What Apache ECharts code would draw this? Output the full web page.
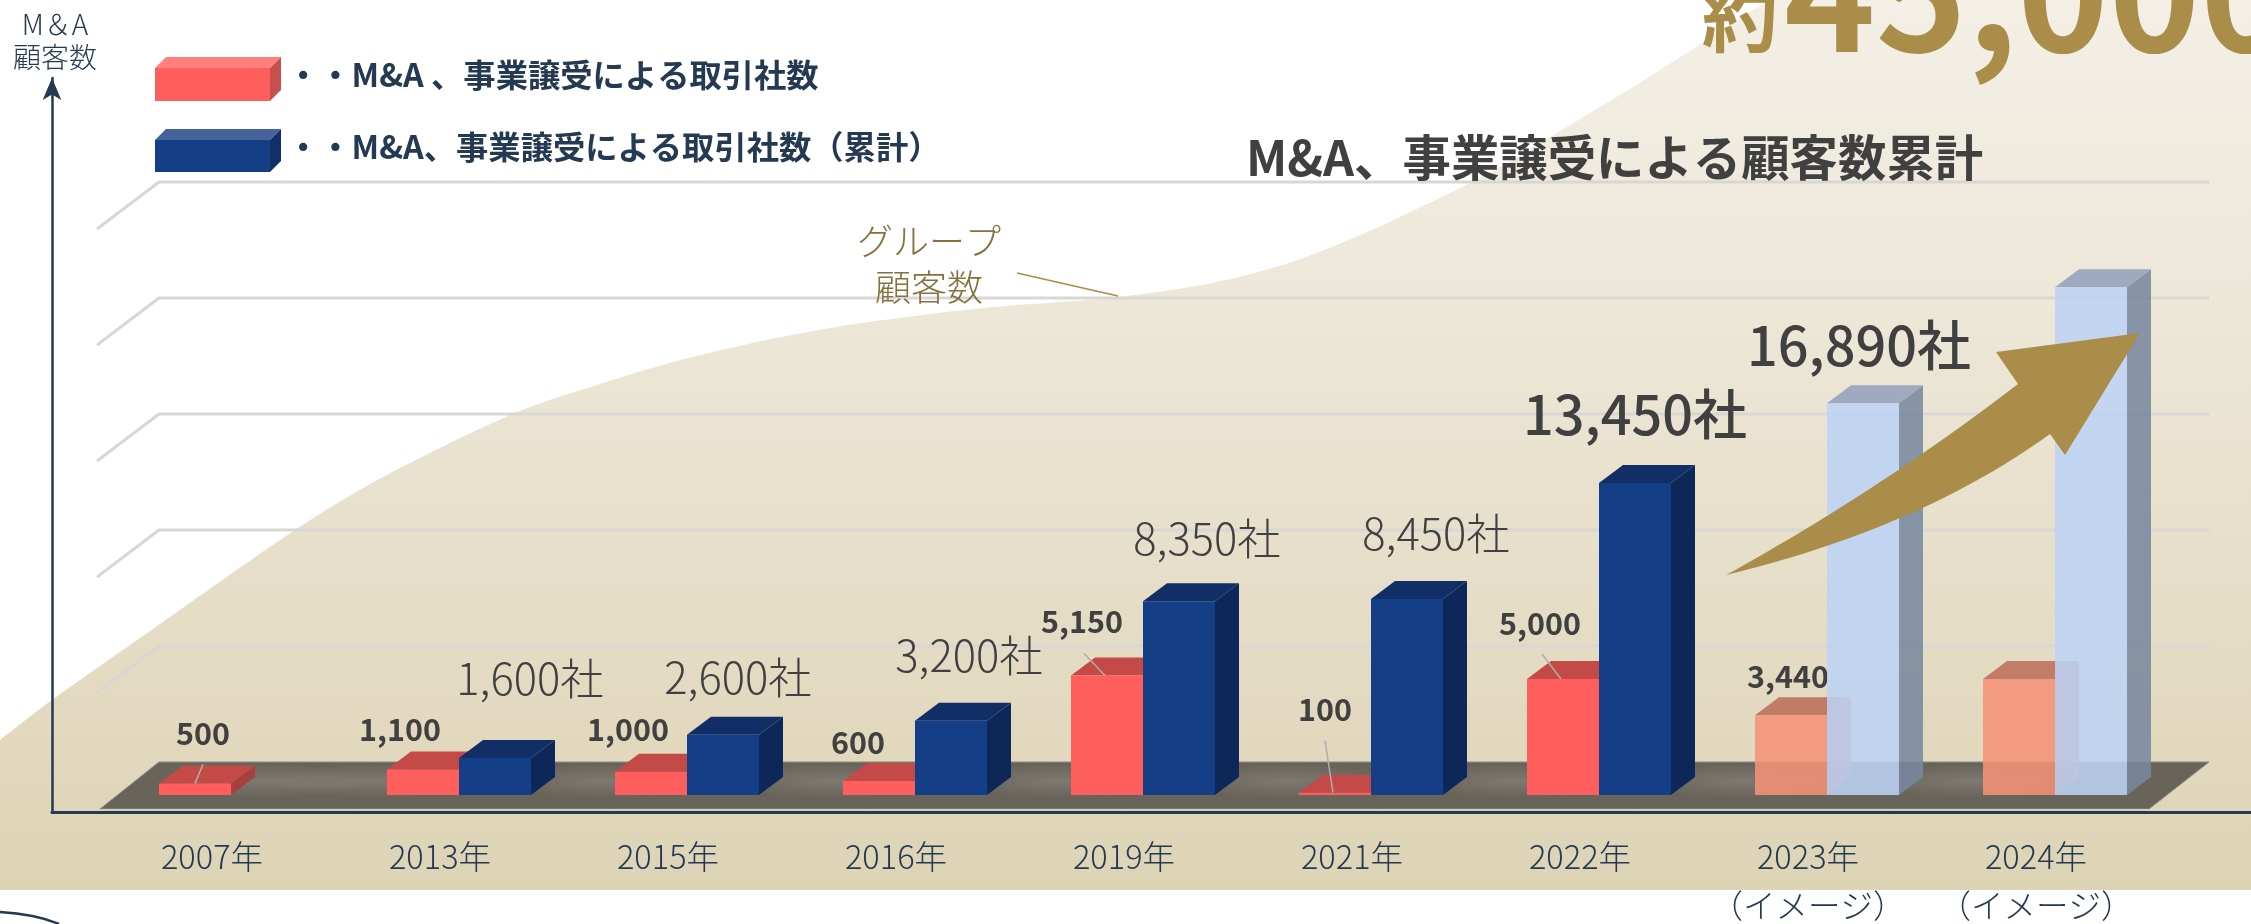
<!DOCTYPE html>
<html><head><meta charset="utf-8">
<style>html,body{margin:0;padding:0;background:#fff}#c{width:2251px;height:924px}</style>
<script src="https://cdn.jsdelivr.net/npm/echarts@6/dist/echarts.min.js"></script>
</head><body><div id="c"></div>
<script>
const FONT = '"Noto Sans CJK JP","Noto Sans",sans-serif';

// ---- data ----
const categories = ['2007年','2013年','2015年','2016年','2019年','2021年','2022年','2023年\n（イメージ）','2024年\n（イメージ）'];
const dealCounts = [500,1100,1000,600,5150,100,5000,3440,5000];
const cumulativeCounts = [null,1600,2600,3200,8350,8450,13450,16890,21890];
const gridValues = [5000,10000,15000,20000,25000];
const firstProjected = 7;
// group-customer curve: category position, customers (same scale as the bars)
const curveX = [-1.013,-0.785,-0.342,0.281,0.667,1.246,1.618,1.956,2.289,2.627,2.961,3.298,3.632,3.899,4.303,4.640,4.974,5.311,5.443,5.645,5.816,5.982,6.149,6.316,6.452,6.654,6.754,6.881,8.860];
const curveY = [2371,4095,7155,11422,13707,16466,17716,18707,19483,20129,20603,20991,21250,21466,22069,22931,24224,25776,26422,27500,28534,29526,30517,31552,32414,33707,34267,35129,35129];

// ---- series names and texts ----
const dealName = '・・M&A 、事業譲受による取引社数';
const cumName = '・・M&A、事業譲受による取引社数（累計）';
const chartTitle = 'M&A、事業譲受による顧客数累計';

// ---- styling offsets ----
const depthX = 24, depthY = 18;
const dealLabelOffsets = [[8,-50],[-23,-40],[-23,-42],[-21,-39],[-25,-54],[-10,-83],[-23,-56],[-3,-39],null];
const cumLabelOffsets = [null,[35,-79],[15,-57],[18,-65],[28,-63],[29,-65],[0,-68],[-4,-58],null];
const leaderOffsets = {0:[8,-19,0,0],4:[-23,-22,-2,0],5:[-10,-52,-2,0],6:[-21,-25,-2,0]};
const glowShift = [36,-85,-85,-85,-85,-85,-85,-85,-85];

const C = {
  red:{front:'#ff5f5c',top:'#c34a47',side:'#a8403d'},
  blue:{front:'#143e85',top:'#122e66',side:'#0e2759'},
  redP:{front:'rgba(245,146,120,0.87)',top:'rgba(187,110,90,0.87)',side:'rgba(187,110,90,0.87)'},
  blueP:{front:'rgba(188,210,245,0.87)',top:'rgba(147,161,190,0.87)',side:'rgba(119,135,159,0.87)'}
};
const GOLD = '#a98d49', INK = '#404040', NAVY = '#243a52';

function quad(p0,c,p1,n){
  const out=[];
  for(let k=1;k<=n;k++){const t=k/n,u=1-t;out.push([u*u*p0[0]+2*u*t*c[0]+t*t*p1[0],u*u*p0[1]+2*u*t*c[1]+t*t*p1[1]]);}
  return out;
}
const arrowOutline = [[1726,575]]
  .concat(quad([1726,575],[1880,490],[2018,384],24))
  .concat([[1996,352],[2140,333],[2065,455],[2050,434]])
  .concat(quad([2050,434],[1920,528],[1726,575],24));

function facesSeries(name, values, normal, projected, z){
  return {
    type:'custom', name:name+'-3d', z:z, silent:true, clip:false,
    xAxisIndex:0, yAxisIndex:0,
    data: values.map((v,i)=>[i,v]).filter(d=>d[1]!=null),
    encode:{x:0,y:1},
    renderItem(params, api){
      const i = api.value(0), v = api.value(1);
      const p0 = api.coord([i,0]), p1 = api.coord([i,v]);
      const isRed = values === dealCounts;
      const l = isRed ? p0[0]-72 : p0[0], r = l+72;
      const t = p1[1], b = p0[1];
      const c = i>=firstProjected ? projected : normal;
      return {type:'group',children:[
        {type:'polygon',shape:{points:[[r,t],[r+depthX,t-depthY],[r+depthX,b-depthY],[r,b]]},style:{fill:c.side}},
        {type:'polygon',shape:{points:[[l,t],[r,t],[r+depthX,t-depthY],[l+depthX,t-depthY]]},style:{fill:c.top}}
      ]};
    }
  };
}

const dealData = dealCounts.map((v,i)=>({
  value:v,
  itemStyle:{color:i>=firstProjected?C.redP.front:C.red.front},
  label: dealLabelOffsets[i] ? {
    show:true, position:'top', distance:0, verticalAlign:'middle', offset:dealLabelOffsets[i],
    formatter:v.toLocaleString('en-US'), fontFamily:FONT, fontWeight:700, fontSize:30.5, color:INK
  } : {show:false}
}));
const cumData = cumulativeCounts.map((v,i)=>v==null?{value:'-'}:({
  value:v,
  itemStyle:{color:i>=firstProjected?C.blueP.front:C.blue.front},
  label: cumLabelOffsets[i] ? {
    show:true, position:'top', distance:0, verticalAlign:'middle', offset:cumLabelOffsets[i],
    formatter:v.toLocaleString('en-US')+'社', fontFamily:FONT,
    fontWeight:(i>=6?500:300), fontSize:(i>=6?54:43.5), color:INK
  } : {show:false}
}));

const option = {
  animation:false,
  backgroundColor:'#fff',
  title:{text:chartTitle,left:1246,top:133,padding:0,z:12,
    textStyle:{fontFamily:FONT,fontWeight:700,fontSize:48.4,color:INK}},
  legend:{
    data:[{name:dealName,itemStyle:{color:'rgba(0,0,0,0)'}},{name:cumName,itemStyle:{color:'rgba(0,0,0,0)'}}],
    orient:'vertical',left:155,top:58,padding:0,
    itemWidth:115,itemHeight:33,itemGap:39,selectedMode:false,icon:'rect',
    textStyle:{fontFamily:FONT,fontWeight:700,fontSize:32.3,color:NAVY,padding:[0,0,0,12]},
    z:12
  },
  grid:[
    {left:117,width:2052,top:75.8,height:742.4,outerBoundsMode:'none'},
    {left:0,right:0,top:0,height:890,outerBoundsMode:'none'},
    {left:52,right:0,top:78,height:734,outerBoundsMode:'none'}
  ],
  xAxis:[
    {type:'category',gridIndex:0,data:categories,boundaryGap:true,z:10,
      axisLine:{show:false},axisTick:{show:false},splitLine:{show:false},
      axisLabel:{interval:0,margin:14,padding:[0,38,0,0],fontFamily:FONT,fontWeight:300,fontSize:32.5,lineHeight:49,color:NAVY,verticalAlign:'top',hideOverlap:false}},
    {type:'value',gridIndex:1,min:-1.013,max:8.86,show:false},
    {type:'value',gridIndex:2,min:0,max:1,z:10,
      axisLine:{show:true,onZero:false,lineStyle:{color:NAVY,width:3}},
      axisTick:{show:false},axisLabel:{show:false},splitLine:{show:false}}
  ],
  yAxis:[
    {type:'value',gridIndex:0,min:-1000,max:31000,show:false},
    {type:'value',gridIndex:1,min:-4095,max:34267,show:false},
    {type:'value',gridIndex:2,min:0,max:1,z:10,
      name:'M＆A\n顧客数',nameLocation:'end',nameGap:4,
      nameTextStyle:{fontFamily:FONT,fontWeight:300,fontSize:28,lineHeight:33,color:NAVY,align:'center',verticalAlign:'bottom',padding:[0,0,0,6]},
      axisLine:{show:true,onZero:false,symbol:['none','arrow'],symbolSize:[14,22],lineStyle:{color:NAVY,width:2.5}},
      axisTick:{show:false},axisLabel:{show:false},splitLine:{show:false}}
  ],
  series:[
    {type:'line',name:'グループ顧客数',xAxisIndex:1,yAxisIndex:1,z:1,silent:true,
      data:curveX.map((x,i)=>[x,curveY[i]]),smooth:0.3,showSymbol:false,symbol:'none',
      lineStyle:{width:0},
      areaStyle:{origin:'start',opacity:1,color:{type:'linear',x:0,y:0,x2:0,y2:1,colorStops:[
        {offset:0,color:'#f4f0e7'},{offset:0.4,color:'#ece6d6'},{offset:1,color:'#ddd3b5'}]}}},
    {type:'custom',name:'grid-walls',xAxisIndex:0,yAxisIndex:0,z:2,silent:true,clip:false,
      data:gridValues.map(v=>[0,v]),encode:{x:0,y:1},
      renderItem(params,api){
        const y = api.coord([0,api.value(1)])[1];
        const cs = params.coordSys, L = cs.x+42, R = cs.x+cs.width+40;
        return {type:'polyline',shape:{points:[[L-62,y+14],[L,y-33],[R,y-33]]},
          style:{fill:null,stroke:'#d8d7d4',lineWidth:3}};
      }},
    {type:'custom',name:'floor',xAxisIndex:0,yAxisIndex:0,z:2,silent:true,clip:false,
      data:categories.map((c,i)=>[i,0]),encode:{x:0,y:1},
      renderItem(params,api){
        const i = api.value(0), p = api.coord([i,0]);
        const cs = params.coordSys, L = cs.x+42, R = cs.x+cs.width+40, y=p[1];
        const kids = [];
        if(i===0){
          kids.push({type:'polygon',shape:{points:[[L,y-33],[R,y-33],[R-60,y+14],[L-59,y+14]]},style:{fill:'#69645a',stroke:'#8a8a88',lineWidth:1}});
          kids.push({type:'line',shape:{x1:L-59,y1:y+15,x2:R-60,y2:y+15},style:{stroke:'#d4ccb4',lineWidth:2}});
        }
        kids.push({type:'circle',scaleY:17/105,originX:p[0]+glowShift[i],originY:y-14,shape:{cx:p[0]+glowShift[i],cy:y-14,r:105},style:{fill:{type:'radial',x:0.5,y:0.5,r:0.5,colorStops:[
          {offset:0,color:'rgba(255,255,255,0.14)'},{offset:1,color:'rgba(255,255,255,0)'}]}}});
        return {type:'group',children:kids};
      }},
    facesSeries(dealName,dealCounts,C.red,C.redP,3),
    {type:'bar',name:dealName,xAxisIndex:0,yAxisIndex:0,z:4,barWidth:72,barGap:0,silent:true,
      itemStyle:{color:C.red.front},data:dealData},
    {type:'custom',name:'leaders',xAxisIndex:0,yAxisIndex:0,z:4,silent:true,clip:false,
      data:dealCounts.map((v,i)=>[i,v]).filter(d=>leaderOffsets[d[0]]),encode:{x:0,y:1},
      renderItem(params,api){
        const i = api.value(0), p = api.coord([i,api.value(1)]), o = leaderOffsets[i], cx = p[0]-36;
        return {type:'line',z2:50,shape:{x1:cx+o[0],y1:p[1]+o[1],x2:cx+o[2],y2:p[1]+o[3]},style:{stroke:'#adadad',lineWidth:1.5}};
      }},
    facesSeries(cumName,cumulativeCounts,C.blue,C.blueP,5),
    {type:'bar',name:cumName,xAxisIndex:0,yAxisIndex:0,z:6,barWidth:72,barGap:0,silent:true,
      itemStyle:{color:C.blue.front},data:cumData}
  ],
  graphic:{elements:[
    // legend boxes
    {type:'rect',z:12,shape:{x:155,y:68,width:115,height:33},style:{fill:C.red.front}},
    {type:'rect',z:12,shape:{x:155,y:140,width:115,height:32},style:{fill:C.blue.front}},
    {type:'polygon',z:12,shape:{points:[[155,68],[270,68],[281,57],[166,57]]},style:{fill:'#ff807d'}},
    {type:'polygon',z:12,shape:{points:[[270,68],[281,57],[281,90],[270,101]]},style:{fill:'#c5504e'}},
    {type:'polygon',z:12,shape:{points:[[155,140],[270,140],[281,129],[166,129]]},style:{fill:'#436399'}},
    {type:'polygon',z:12,shape:{points:[[270,140],[281,129],[281,161],[270,172]]},style:{fill:'#0f3068'}},
    // group-customers callout
    {type:'text',z:12,x:929,y:264,style:{text:'グループ\n顧客数',align:'center',verticalAlign:'middle',lineHeight:46,fontFamily:FONT,fontWeight:300,fontSize:36,fill:'#86703c'}},
    {type:'line',z:12,shape:{x1:1017,y1:273,x2:1118,y2:296},style:{stroke:GOLD,lineWidth:1.5}},
    // headline figure, cropped by the canvas top
    {type:'text',z:12,x:1702,y:17,style:{text:'約',align:'left',verticalAlign:'middle',fontFamily:FONT,fontWeight:700,fontSize:76,fill:GOLD}},
    {type:'text',z:12,x:1784,y:-7,style:{text:'45,000',align:'left',verticalAlign:'middle',fontFamily:FONT,fontWeight:700,fontSize:155,fill:GOLD}},
    // growth arrow
    {type:'polygon',z:13,shape:{points:arrowOutline},style:{fill:GOLD}},
    // cropped arc at the bottom-left
    {type:'bezierCurve',z:12,shape:{x1:0,y1:912,cpx1:35,cpy1:914,x2:59,y2:924},style:{fill:null,stroke:NAVY,lineWidth:2.5}}
  ]}
};
const chart = echarts.init(document.getElementById('c'),null,{renderer:'canvas',width:2251,height:924});
chart.setOption(option);
</script></body></html>
